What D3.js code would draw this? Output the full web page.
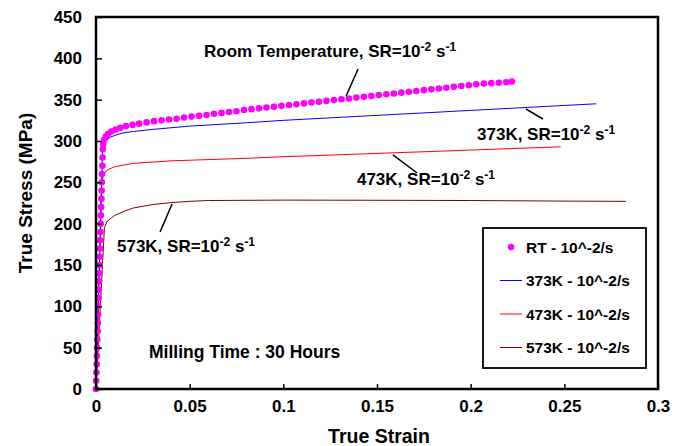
<!DOCTYPE html>
<html>
<head>
<meta charset="utf-8">
<script src="https://cdn.jsdelivr.net/npm/d3@7"></script>
<style>
  body { margin: 0; background: #fff; }
  svg { display: block; }
  text { font-family: Arial, "Liberation Sans", sans-serif; font-weight: bold; fill: #000; }
</style>
</head>
<body>
<svg width="685" height="446"></svg>
<script>
// room temperature (dots), [strain, stress]
var rtData = [
  [0, 0], [0.0001, 10], [0.0002, 20], [0.0004, 30], [0.0005, 40], [0.0006, 50],
  [0.0007, 60], [0.0009, 70], [0.001, 80], [0.0011, 90], [0.0012, 100], [0.0014, 110],
  [0.0015, 120], [0.0016, 130], [0.0017, 140], [0.0019, 150], [0.002, 160], [0.0021, 170],
  [0.0022, 180], [0.0024, 190], [0.0025, 200], [0.0026, 210], [0.0027, 220], [0.0029, 230],
  [0.003, 240], [0.0031, 250], [0.0032, 260], [0.0034, 270], [0.0035, 280], [0.0036, 290],
  [0.0038, 296], [0.0043, 301], [0.0052, 305], [0.0064, 308.5], [0.0082, 311.5], [0.0105, 314],
  [0.013, 316], [0.016, 318], [0.0195, 319.5], [0.023, 321], [0.027, 322.5], [0.031, 324],
  [0.035, 325], [0.039, 326], [0.043, 327], [0.047, 328.5], [0.051, 329.5], [0.055, 330.5],
  [0.059, 331.5], [0.063, 333], [0.067, 334], [0.071, 335], [0.075, 336], [0.079, 337.5],
  [0.083, 338.5], [0.087, 339.5], [0.091, 340.5], [0.095, 341.5], [0.099, 342.5], [0.103, 343.5],
  [0.107, 344.5], [0.111, 345.5], [0.115, 346.5], [0.119, 347.5], [0.123, 348.5], [0.127, 349.5],
  [0.131, 350.5], [0.135, 351.5], [0.139, 352.5], [0.143, 353.5], [0.147, 354.5], [0.151, 355.5],
  [0.155, 356.5], [0.159, 357.5], [0.163, 358.5], [0.167, 359.5], [0.171, 360.5], [0.175, 361.5],
  [0.179, 362.5], [0.183, 363.5], [0.187, 364.5], [0.191, 365.5], [0.195, 366.5], [0.199, 367.5],
  [0.203, 368.5], [0.207, 369.5], [0.211, 370], [0.215, 370.5], [0.219, 371], [0.222, 372]
];
var k373Data = [
  [0, 0], [0.0035, 290], [0.0045, 298], [0.006, 302], [0.008, 305], [0.011, 307.5],
  [0.015, 310], [0.02, 311.5], [0.03, 314], [0.05, 318], [0.08, 322], [0.1, 325],
  [0.15, 331], [0.2, 337], [0.25, 343], [0.267, 345]
];
var k473Data = [
  [0, 0], [0.003, 250], [0.004, 259], [0.006, 265], [0.01, 269], [0.02, 273],
  [0.04, 276], [0.08, 279], [0.1, 281], [0.15, 285], [0.2, 289], [0.248, 293]
];
var k573Data = [
  [0, 0], [0.0045, 195], [0.006, 203], [0.01, 210], [0.015, 215], [0.02, 219],
  [0.03, 223], [0.04, 225.5], [0.05, 227], [0.06, 228], [0.1, 228.5], [0.15, 228.3],
  [0.2, 228], [0.25, 227.3], [0.283, 227]
];

var xTicks = [0, 0.05, 0.1, 0.15, 0.2, 0.25, 0.3];
var yTicks = [0, 50, 100, 150, 200, 250, 300, 350, 400, 450];
var legendLabels = ["RT - 10^-2/s", "373K - 10^-2/s", "473K - 10^-2/s", "573K - 10^-2/s"];
var seriesColors = ["#ff00ff", "#0000ff", "#ff0000", "#800000"];

// curve labels: text anchor and leader line in data units
var notes = [
  { head: "Room Temperature, SR=10", tx: 0.0577, ty: 401.6, l: [[0.1399, 387.1], [0.1335, 354.4]] },
  { head: "373K, SR=10", tx: 0.2034, ty: 301.2, l: [[0.2295, 338.7], [0.2386, 326.6]] },
  { head: "473K, SR=10", tx: 0.1393, ty: 246.8, l: [[0.1585, 283.1], [0.1714, 261.3]] },
  { head: "573K, SR=10", tx: 0.0112, ty: 165.7, l: [[0.0406, 223.8], [0.0342, 189.9]] }
];

var svg = d3.select("svg");
var plotL = 96, plotR = 658, plotT = 17, plotB = 389;

var x = d3.scaleLinear().domain([0, 0.3]).range([plotL, plotR]);
var y = d3.scaleLinear().domain([0, 450]).range([plotB, plotT]);

var line = d3.line()
  .x(function(d) { return x(d[0]); })
  .y(function(d) { return y(d[1]); });

// curves
[k573Data, k473Data, k373Data].forEach(function(s, i) {
  svg.append("path")
    .datum(s)
    .attr("fill", "none")
    .attr("stroke", seriesColors[3 - i])
    .attr("stroke-width", 1)
    .attr("d", line);
});

svg.append("g").selectAll("circle")
  .data(rtData)
  .enter().append("circle")
  .attr("cx", function(d) { return x(d[0]); })
  .attr("cy", function(d) { return y(d[1]); })
  .attr("r", 3.3)
  .attr("fill", seriesColors[0]);

// axes with inward ticks
var xAxis = svg.append("g")
  .attr("transform", "translate(0," + plotB + ")")
  .call(d3.axisBottom(x).tickValues(xTicks).tickSize(-5).tickPadding(11)
    .tickFormat(function(d) { return d; }));
var yAxis = svg.append("g")
  .attr("transform", "translate(" + plotL + ",0)")
  .call(d3.axisLeft(y).tickValues(yTicks).tickSize(-6).tickPadding(14));

[xAxis, yAxis].forEach(function(a) {
  a.select(".domain").remove();
  a.selectAll(".tick line").attr("stroke", "#000").attr("stroke-width", 1.5);
  a.selectAll(".tick text").style("font-size", "17px").style("font-family", "Arial, 'Liberation Sans', sans-serif")
    .style("font-weight", "bold").attr("fill", "#000");
});

svg.append("rect")
  .attr("x", plotL).attr("y", plotT)
  .attr("width", plotR - plotL).attr("height", plotB - plotT)
  .attr("fill", "none").attr("stroke", "#000").attr("stroke-width", 2.5);

// axis titles
svg.append("text")
  .attr("x", (plotL + plotR) / 2 + 2).attr("y", 443)
  .attr("text-anchor", "middle").style("font-size", "19.5px")
  .text("True Strain");
svg.append("text")
  .attr("transform", "translate(32,193) rotate(-90)")
  .attr("text-anchor", "middle").style("font-size", "19px")
  .text("True Stress (MPa)");

// curve labels
notes.forEach(function(n) {
  svg.append("line")
    .attr("x1", x(n.l[0][0])).attr("y1", y(n.l[0][1]))
    .attr("x2", x(n.l[1][0])).attr("y2", y(n.l[1][1]))
    .attr("stroke", "#000").attr("stroke-width", 1.5);
  var t = svg.append("text")
    .attr("x", x(n.tx)).attr("y", y(n.ty))
    .style("font-size", "17px");
  t.append("tspan").text(n.head);
  t.append("tspan").attr("dy", -6).style("font-size", "12px").text("-2");
  t.append("tspan").attr("dy", 6).text(" s");
  t.append("tspan").attr("dy", -6).style("font-size", "12px").text("-1");
});

svg.append("text")
  .attr("x", x(0.0283)).attr("y", y(37.5))
  .style("font-size", "17.5px")
  .text("Milling Time : 30 Hours");

// legend
var legend = svg.append("g");
legend.append("rect")
  .attr("x", 483).attr("y", 228).attr("width", 163).attr("height", 140)
  .attr("fill", "#fff").attr("stroke", "#000").attr("stroke-width", 1.8);

var item = legend.selectAll(".item")
  .data(legendLabels)
  .enter().append("g")
  .attr("transform", function(d, i) { return "translate(0," + (247 + i * 33.5) + ")"; });

item.each(function(d, i) {
  var g = d3.select(this);
  if (i === 0) {
    g.append("circle").attr("cx", 511).attr("cy", 0).attr("r", 3.3).attr("fill", seriesColors[0]);
  } else {
    g.append("line").attr("x1", 500).attr("x2", 522).attr("y1", 0).attr("y2", 0)
      .attr("stroke", seriesColors[i]).attr("stroke-width", 1);
  }
  g.append("text").attr("x", 526).attr("y", 5.5).style("font-size", "15.5px").text(d);
});
</script>
</body>
</html>
